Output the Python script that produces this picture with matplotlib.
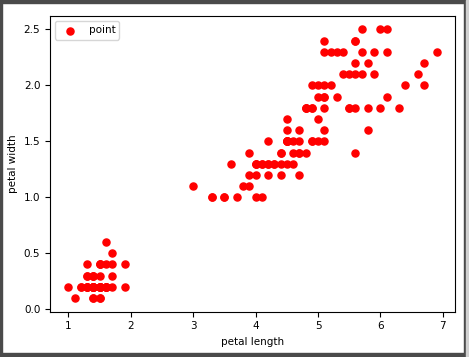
import numpy as np
import matplotlib.pyplot as plt
from matplotlib.patches import Rectangle

# iris petal measurements
petal_length = [1.4, 1.4, 1.3, 1.5, 1.4, 1.7, 1.4, 1.5, 1.4, 1.5, 1.5, 1.6, 1.4, 1.1, 1.2, 1.5, 1.3, 1.4, 1.7, 1.5,
                1.7, 1.5, 1.0, 1.7, 1.9, 1.6, 1.6, 1.5, 1.4, 1.6, 1.6, 1.5, 1.5, 1.4, 1.5, 1.2, 1.3, 1.4, 1.3, 1.5,
                1.3, 1.3, 1.3, 1.6, 1.9, 1.4, 1.6, 1.4, 1.5, 1.4,
                4.7, 4.5, 4.9, 4.0, 4.6, 4.5, 4.7, 3.3, 4.6, 3.9, 3.5, 4.2, 4.0, 4.7, 3.6, 4.4, 4.5, 4.1, 4.5, 3.9,
                4.8, 4.0, 4.9, 4.7, 4.3, 4.4, 4.8, 5.0, 4.5, 3.5, 3.8, 3.7, 3.9, 5.1, 4.5, 4.5, 4.7, 4.4, 4.1, 4.0,
                4.4, 4.6, 4.0, 3.3, 4.2, 4.2, 4.2, 4.3, 3.0, 4.1,
                6.0, 5.1, 5.9, 5.6, 5.8, 6.6, 4.5, 6.3, 5.8, 6.1, 5.1, 5.3, 5.5, 5.0, 5.1, 5.3, 5.5, 6.7, 6.9, 5.0,
                5.7, 4.9, 6.7, 4.9, 5.7, 6.0, 4.8, 4.9, 5.6, 5.8, 6.1, 6.4, 5.6, 5.1, 5.6, 6.1, 5.6, 5.5, 4.8, 5.4,
                5.6, 5.1, 5.1, 5.9, 5.7, 5.2, 5.0, 5.2, 5.4, 5.1]
petal_width = [0.2, 0.2, 0.2, 0.2, 0.2, 0.4, 0.3, 0.2, 0.2, 0.1, 0.2, 0.2, 0.1, 0.1, 0.2, 0.4, 0.4, 0.3, 0.3, 0.3,
               0.2, 0.4, 0.2, 0.5, 0.2, 0.2, 0.4, 0.2, 0.2, 0.2, 0.2, 0.4, 0.1, 0.2, 0.2, 0.2, 0.2, 0.1, 0.2, 0.2,
               0.3, 0.3, 0.2, 0.6, 0.4, 0.3, 0.2, 0.2, 0.2, 0.2,
               1.4, 1.5, 1.5, 1.3, 1.5, 1.3, 1.6, 1.0, 1.3, 1.4, 1.0, 1.5, 1.0, 1.4, 1.3, 1.4, 1.5, 1.0, 1.5, 1.1,
               1.8, 1.3, 1.5, 1.2, 1.3, 1.4, 1.4, 1.7, 1.5, 1.0, 1.1, 1.0, 1.2, 1.6, 1.5, 1.6, 1.5, 1.3, 1.3, 1.3,
               1.2, 1.4, 1.2, 1.0, 1.3, 1.2, 1.3, 1.3, 1.1, 1.3,
               2.5, 1.9, 2.1, 1.8, 2.2, 2.1, 1.7, 1.8, 1.8, 2.5, 2.0, 1.9, 2.1, 2.0, 2.4, 2.3, 1.8, 2.2, 2.3, 1.5,
               2.3, 2.0, 2.0, 1.8, 2.1, 1.8, 1.8, 1.8, 2.1, 1.6, 1.9, 2.0, 2.2, 1.5, 1.4, 2.3, 2.4, 1.8, 1.8, 2.1,
               2.4, 2.3, 1.9, 2.3, 2.5, 2.3, 1.9, 2.0, 2.3, 1.8]

plt.rcParams['font.size'] = 7.5

fig = plt.figure(figsize=(4.69, 3.57), dpi=100)
ax = fig.add_axes([50 / 469, 1 - 311.5 / 357, 405 / 469, 295.5 / 357])

ax.scatter(petal_length, petal_width, color='red', s=26, label='point')
ax.set_xlabel('petal length')
ax.set_ylabel('petal width')
ax.legend(loc='upper left')

# screenshot window frame
fig.patches.append(Rectangle((0, 1 - 3 / 357), 1, 3 / 357, transform=fig.transFigure,
                             color='#4a4a4a', zorder=0))
fig.patches.append(Rectangle((0, 0), 1, 4 / 357, transform=fig.transFigure,
                             color='#4a4a4a', zorder=0))
fig.patches.append(Rectangle((0, 0), 1.5 / 469, 1, transform=fig.transFigure,
                             color='#4a4a4a', zorder=0))
fig.patches.append(Rectangle((464 / 469, 0), 2 / 469, 1, transform=fig.transFigure,
                             color='#4a4a4a', zorder=0))
fig.patches.append(Rectangle((466 / 469, 0), 3 / 469, 1, transform=fig.transFigure,
                             color='#d0d0d0', zorder=0))

fig.savefig('out.png', dpi=100)
